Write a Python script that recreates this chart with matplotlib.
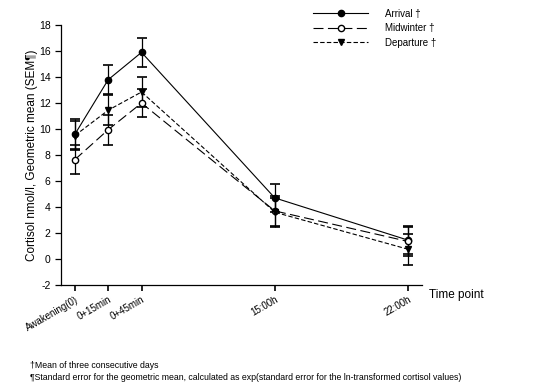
import matplotlib
matplotlib.use("Agg")
import matplotlib.pyplot as plt
from matplotlib.lines import Line2D
import numpy as np

plt.rcParams['font.family'] = ['Liberation Sans', 'DejaVu Sans']
plt.rcParams['axes.unicode_minus'] = False

# time points (positions on the original axis) and labels
time_pos = [0, 1, 2, 6, 10]
time_labels = ['Awakening(0)', '0+15min', '0+45min', '15:00h', '22:00h']

# geometric means (nmol/l) and SEM
arrival = [9.6, 13.8, 15.9, 4.7, 1.45]
arrival_err = [1.15, 1.1, 1.1, 1.05, 1.1]
midwinter = [7.65, 9.95, 12.0, 3.7, 1.35]
midwinter_err = [1.1, 1.15, 1.1, 1.15, 1.15]
departure = [9.5, 11.45, 12.85, 3.6, 0.75]
departure_err = [1.1, 1.15, 1.15, 1.1, 1.2]

fig = plt.figure(figsize=(5.39, 3.92), dpi=100)
ax = fig.add_axes([0.113, 0.273, 0.67, 0.663])

ebkw = dict(ecolor='black', elinewidth=0.9, capsize=3.5, capthick=1.2, color='black',
            linewidth=0.8, markersize=4.5)
ax.errorbar(time_pos, arrival, yerr=arrival_err, marker='o', linestyle='-',
            markerfacecolor='black', **ebkw)
ax.errorbar(time_pos, midwinter, yerr=midwinter_err, marker='o', dashes=(9, 4),
            markerfacecolor='white', **ebkw)
ax.errorbar(time_pos, departure, yerr=departure_err, marker='v', dashes=(4, 2),
            markerfacecolor='black', **ebkw)

ax.set_xlim(-0.42, 10.42)
ax.set_ylim(-2, 18)
ax.set_yticks(np.arange(-2, 19, 2))
ax.set_xticks(time_pos)
ax.set_xticklabels(time_labels, rotation=30, ha='right', rotation_mode='anchor', fontsize=7)
ax.tick_params(axis='y', labelsize=7.5, length=4, width=0.9, direction='out')
ax.tick_params(axis='x', length=4, width=1.2, direction='out', pad=3)
for s in ['top', 'right']:
    ax.spines[s].set_visible(False)
for s in ['left', 'bottom']:
    ax.spines[s].set_linewidth(0.9)

ax.set_ylabel('Cortisol nmol/l, Geometric mean (SEM\u00b6)', fontsize=8.5)
ax.yaxis.set_label_coords(-0.063, 0.5)
fig.text(0.795, 0.247, 'Time point', fontsize=8.5, va='center', ha='left')

# legend handles without the error bars
handles = [
    Line2D([], [], color='black', lw=0.8, marker='o', markersize=4.5, markerfacecolor='black'),
    Line2D([], [], color='black', lw=0.8, marker='o', markersize=4.5, markerfacecolor='white',
           dashes=(9, 4)),
    Line2D([], [], color='black', lw=0.8, marker='v', markersize=4.5, markerfacecolor='black',
           dashes=(4, 2)),
]
labels = ['Arrival \u2020', 'Midwinter \u2020', 'Departure \u2020']
fig.legend(handles, labels, loc='upper left', bbox_to_anchor=(0.565, 1.0), frameon=False,
           fontsize=7, handlelength=5.6, labelspacing=0.45, handletextpad=1.8)

fig.text(0.056, 0.062, '\u2020Mean of three consecutive days', fontsize=6.3)
fig.text(0.056, 0.031, '\u00b6Standard error for the geometric mean, calculated as '
         'exp(standard error for the ln-transformed cortisol values)', fontsize=6.3)

fig.savefig('out.png', dpi=100)
